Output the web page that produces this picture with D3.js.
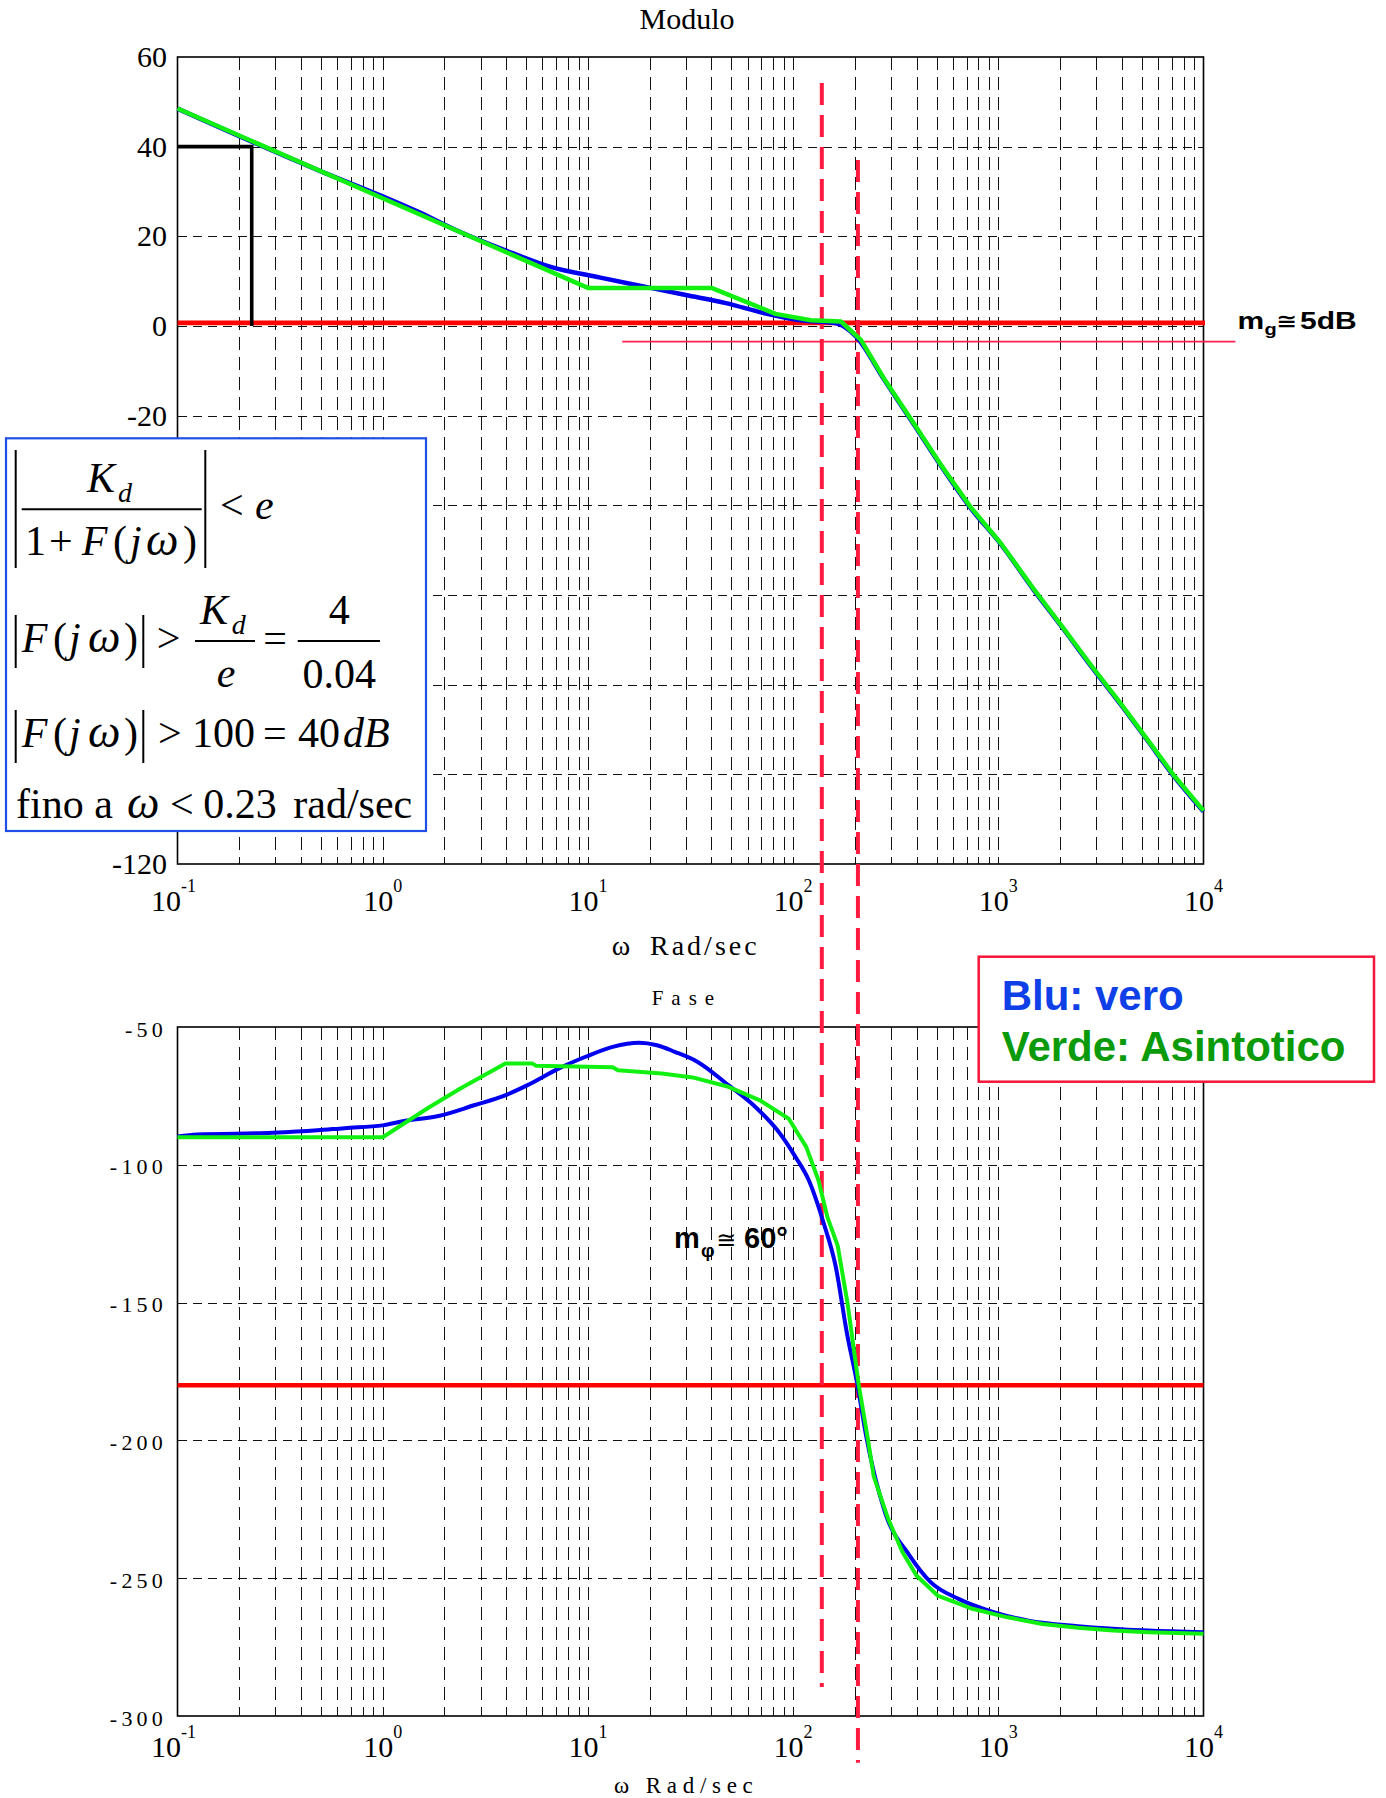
<!DOCTYPE html>
<html><head><meta charset="utf-8">
<script src="https://cdn.jsdelivr.net/npm/d3@7"></script>
<style>
html,body{margin:0;padding:0;background:#fff;}
svg{display:block;}
</style></head>
<body>
<svg id="chart" width="1386" height="1798"></svg>
<script>
// ---------------- DATA ----------------
const decadeExps = [-1, 0, 1, 2, 3, 4];
const magTicks = [60, 40, 20, 0, -20, -40, -60, -80, -100, -120];
const phaseTicks = [-50, -100, -150, -200, -250, -300];

// Magnitude (dB) - asymptotic (green)
const magAsymW  = [0.1, 1, 10, 40, 59, 82, 122, 171, 214, 277, 387, 522, 733, 1026, 1489, 2084, 2812, 3945, 5321, 7161, 10000];
const magAsymDb = [48.5, 28.5, 8.5, 8.5, 5.4, 2.7, 1.3, 1.0, -3.1, -11.7, -21.7, -30.8, -40.4, -48.4, -58.7, -67.5, -75.5, -84.2, -92.2, -100.2, -108.1];
// Magnitude (dB) - true (blue)
const magTrueW  = [0.1, 0.5, 1, 1.5, 2.27, 4.33, 6.58, 11.5, 20.2, 30, 47, 73.6, 109, 162, 203, 277, 387, 522, 733, 1026, 1489, 2084, 2812, 3945, 5321, 7161, 10000];
const magTrueDb = [48.5, 34.5, 28.9, 25.4, 21.4, 16.2, 13.2, 10.8, 8.5, 6.9, 5.1, 2.8, 1.3, 0.6, -2.4, -11.9, -21.9, -31.0, -40.6, -48.6, -58.9, -67.7, -75.7, -84.4, -92.4, -100.4, -108.3];

// Phase (deg) - asymptotic (green)
const phaseAsymW   = [0.1, 1, 1.67, 2.39, 3.96, 5.35, 5.6, 13.2, 14, 22.9, 32.4, 48.4, 68.9, 95.3, 116, 133, 147, 165, 184, 209, 232, 247, 290, 341, 399, 506, 748, 1109, 1641, 2443, 3622, 5370, 10000];
const phaseAsymDeg = [-90, -90, -79.3, -72.3, -63.2, -63.2, -64.1, -64.6, -65.7, -66.9, -68.3, -71.7, -76.6, -83.3, -93.6, -105.7, -119, -129.4, -150, -180, -200, -213, -228.3, -240.5, -249, -256.3, -261.1, -264.2, -266.6, -268, -269, -269.6, -270.2];
// Phase (deg) - true (blue)
const phaseTrueW   = [0.1, 0.125, 0.29, 0.48, 0.65, 1, 1.25, 1.87, 2.79, 3.95, 5.08, 7.23, 9.75, 13.2, 17.8, 21.7, 26.5, 34.1, 48.4, 65.5, 83.9, 102.8, 119.4, 140, 161.4, 182.8, 206, 226.5, 280, 369, 468, 640, 948, 1403, 2443, 5370, 10000];
const phaseTrueDeg = [-89.7, -89, -88.4, -87.5, -86.7, -85.7, -84.2, -82.3, -78.4, -74.8, -71.1, -65, -60.8, -57.2, -55.7, -56.6, -59, -62.6, -71.1, -79, -87.5, -97.2, -105.7, -120.5, -137, -161, -180, -198, -225.9, -241.7, -251.4, -257.5, -262.3, -265.4, -267.4, -269, -269.6];

// reference values
const specW = 0.23, specDb = 40;          // |F| > 40 dB up to 0.23 rad/s
const zeroLineDb = 0.7;                    // red 0 dB line
const zeroLineW = [0.1, 10170];
const mgDb = -3.5, mgW = [14.7, 14300];    // gain margin line
const phaseRefDeg = -180;
const crossW = [138, 207];                 // red dashed verticals
const crossFromDb = [54.2, 37];
const crossToDeg = [-289.5, -317];

// ---------------- LAYOUT ----------------
const xL = 177.5, xR = 1203.5;
const magTop = 57, magBot = 864;
const phTop = 1027, phBot = 1716;
const boxTop = 438.3, boxBot = 831;
const serif = "'Liberation Serif','Times New Roman',serif";
const sans = "'Liberation Sans',Arial,sans-serif";

const svg = d3.select('#chart');
const x = d3.scaleLog().domain([0.1, 10000]).range([xL, xR]);
const yM = d3.scaleLinear().domain([-120, 60]).range([magBot, magTop]);
const yP = d3.scaleLinear().domain([-300, -50]).range([phBot, phTop]);

const vGrid = x.ticks().filter(v => v > 0.1 * 1.0001 && v < 10000 / 1.0001);

function grid(g, yScale, hVals, top, bot) {
  g.selectAll('line.v').data(vGrid).join('line')
    .attr('x1', d => Math.round(x(d)) + 0.5).attr('x2', d => Math.round(x(d)) + 0.5)
    .attr('y1', top).attr('y2', bot)
    .attr('stroke', '#111').attr('stroke-width', 1).attr('stroke-dasharray', '13,7')
    .attr('shape-rendering', 'crispEdges');
  g.selectAll('line.h').data(hVals).join('line')
    .attr('x1', xL).attr('x2', xR)
    .attr('y1', d => Math.round(yScale(d)) + 0.5).attr('y2', d => Math.round(yScale(d)) + 0.5)
    .attr('stroke', '#111').attr('stroke-width', 1).attr('stroke-dasharray', '9,6')
    .attr('shape-rendering', 'crispEdges');
  g.append('rect').attr('x', xL).attr('y', top).attr('width', xR - xL).attr('height', bot - top)
    .attr('fill', 'none').attr('stroke', '#000').attr('stroke-width', 1.6);
}

const gM = svg.append('g');
grid(gM, yM, magTicks.slice(1, -1), magTop, magBot);
const gP = svg.append('g');
grid(gP, yP, phaseTicks.slice(1, -1), phTop, phBot);

// ---- titles & axis labels ----
svg.append('text').attr('x', 687).attr('y', 29.3).attr('text-anchor', 'middle')
  .style('font-family', serif).style('font-size', '30px').text('Modulo');
svg.append('text').attr('x', 651.7).attr('y', 1005)
  .style('font-family', serif).style('font-size', '21px').style('letter-spacing', '8px').text('Fase');

// y tick labels (those hidden behind the formula box are not drawn)
svg.append('g').selectAll('text')
  .data(magTicks.filter(d => yM(d) + 12 < boxTop || yM(d) - 12 > boxBot)).join('text')
  .attr('x', 167).attr('y', d => yM(d) + 10).attr('text-anchor', 'end')
  .style('font-family', serif).style('font-size', '30px').text(d => d);
svg.append('g').selectAll('text').data(phaseTicks).join('text')
  .attr('x', 167).attr('y', d => yP(d) + 9.5).attr('text-anchor', 'end')
  .style('font-family', serif).style('font-size', '22px').style('letter-spacing', '4.2px').text(d => d);

// x tick labels
function xLabels(baseline) {
  decadeExps.forEach(e => {
    const t = svg.append('text').attr('x', x(Math.pow(10, e)) + (e === -1 ? -4 : 0)).attr('y', baseline)
      .attr('text-anchor', 'middle').style('font-family', serif).style('font-size', '30px');
    t.append('tspan').text('10');
    t.append('tspan').attr('dy', -19).style('font-size', '18px').text(String(e));
  });
}
xLabels(911);
xLabels(1757);

svg.append('text').attr('x', 611.7).attr('y', 955).style('font-family', serif).style('font-size', '28px').text('ω');
svg.append('text').attr('x', 650).attr('y', 955).style('font-family', serif).style('font-size', '28px')
  .style('letter-spacing', '3px').text('Rad/sec');
svg.append('text').attr('x', 614).attr('y', 1793).style('font-family', serif).style('font-size', '23px').text('ω');
svg.append('text').attr('x', 645.8).attr('y', 1793).style('font-family', serif).style('font-size', '23px')
  .style('letter-spacing', '5.7px').text('Rad/sec');

// ---- reference lines ----
svg.append('line').attr('x1', x(zeroLineW[0])).attr('x2', x(zeroLineW[1]))
  .attr('y1', yM(zeroLineDb)).attr('y2', yM(zeroLineDb)).attr('stroke', '#ff0000').attr('stroke-width', 4.6);
svg.append('line').attr('x1', x(mgW[0])).attr('x2', x(mgW[1]))
  .attr('y1', yM(mgDb)).attr('y2', yM(mgDb)).attr('stroke', '#ff2050').attr('stroke-width', 1.8);
svg.append('line').attr('x1', xL).attr('x2', xR)
  .attr('y1', yP(phaseRefDeg)).attr('y2', yP(phaseRefDeg)).attr('stroke', '#ff0000').attr('stroke-width', 4.6);

crossW.forEach((w, i) => {
  svg.append('line').attr('x1', x(w)).attr('x2', x(w))
    .attr('y1', yM(crossFromDb[i])).attr('y2', yP(crossToDeg[i]))
    .attr('stroke', '#ff1a40').attr('stroke-width', 4).attr('stroke-dasharray', '22,10');
});

// spec black guide
svg.append('path')
  .attr('d', `M${xL},${yM(specDb)}H${x(specW)}V${yM(0)}`)
  .attr('fill', 'none').attr('stroke', '#000').attr('stroke-width', 3.6);

// ---- curves ----
const lineM = d3.line().x(d => x(d[0])).y(d => yM(d[1]));
const lineP = d3.line().x(d => x(d[0])).y(d => yP(d[1]));
const zip = (a, b) => a.map((v, i) => [v, b[i]]);

svg.append('path').attr('d', lineM.curve(d3.curveMonotoneX)(zip(magTrueW, magTrueDb)))
  .attr('fill', 'none').attr('stroke', '#0000ee').attr('stroke-width', 4.5).attr('stroke-linejoin', 'round');
svg.append('path').attr('d', lineM.curve(d3.curveLinear)(zip(magAsymW, magAsymDb)))
  .attr('fill', 'none').attr('stroke', '#12f012').attr('stroke-width', 4.5).attr('stroke-linejoin', 'round');

svg.append('path').attr('d', lineP.curve(d3.curveMonotoneX)(zip(phaseTrueW, phaseTrueDeg)))
  .attr('fill', 'none').attr('stroke', '#0000ee').attr('stroke-width', 4).attr('stroke-linejoin', 'round');
svg.append('path').attr('d', lineP.curve(d3.curveLinear)(zip(phaseAsymW, phaseAsymDeg)))
  .attr('fill', 'none').attr('stroke', '#12f012').attr('stroke-width', 4).attr('stroke-linejoin', 'round');

// ---- annotations ----
const mg = svg.append('g').attr('transform', 'translate(1237.6,329.3) scale(1.25,1)')
  .style('font-family', sans).style('font-weight', 'bold').style('fill', '#000');
mg.append('text').attr('x', 0).attr('y', 0).style('font-size', '24px').text('m');
mg.append('text').attr('x', 21.5).attr('y', 6).style('font-size', '16px').text('g');
mg.append('text').attr('x', 31).attr('y', -1).style('font-size', '20px').style('font-family', "'DejaVu Sans',sans-serif").text('≅');
mg.append('text').attr('x', 50).attr('y', 0).style('font-size', '24px').text('5dB');

const mp = svg.append('g').style('font-family', sans).style('fill', '#000');
mp.append('text').attr('x', 674).attr('y', 1248.3).style('font-size', '29px').style('font-weight', 'bold').text('m');
mp.append('text').attr('x', 701).attr('y', 1257).style('font-size', '19px').style('font-weight', 'bold').text('φ');
mp.append('text').attr('x', 716).attr('y', 1248).style('font-size', '24px').style('font-family', "'DejaVu Sans',sans-serif").text('≅');
mp.append('text').attr('x', 744).attr('y', 1248.3).style('font-size', '29px').style('font-weight', 'bold').text('60°');

// ---- formula box ----
const fb = svg.append('g');
fb.append('rect').attr('x', 6).attr('y', boxTop).attr('width', 420).attr('height', boxBot - boxTop)
  .attr('fill', '#fff').attr('stroke', '#1f4fe8').attr('stroke-width', 2.2);
const pieces = [
  ['K', 87, 491.7, 42, 1], ['d', 118, 501.7, 28, 1],
  ['1', 25, 555, 42, 0], ['+', 49, 555, 42, 0], ['F', 81.7, 555, 42, 1], ['(', 113, 555, 42, 0],
  ['j', 130, 555, 42, 1], ['ω', 146, 555, 46, 1], [')', 183, 555, 42, 0],
  ['<', 220, 519.3, 42, 0], ['e', 255, 519.3, 42, 1],
  ['F', 21.7, 651.7, 42, 1], ['(', 53, 651.7, 42, 0], ['j', 69, 651.7, 42, 1], ['ω', 88, 651.7, 46, 1], [')', 124, 651.7, 42, 0],
  ['>', 156.7, 651.7, 42, 0], ['K', 200, 624.3, 42, 1], ['d', 231.7, 634, 28, 1],
  ['e', 226, 686.7, 42, 1, 'middle'], ['=', 263.3, 651.7, 42, 0],
  ['4', 339.3, 624.3, 42, 0, 'middle'], ['0.04', 339.2, 687.7, 42, 0, 'middle'],
  ['F', 21.7, 746.7, 42, 1], ['(', 53, 746.7, 42, 0], ['j', 69, 746.7, 42, 1], ['ω', 88, 746.7, 46, 1], [')', 124, 746.7, 42, 0],
  ['>', 158, 746.7, 42, 0], ['100', 192, 746.7, 42, 0], ['=', 263, 746.7, 42, 0], ['40', 298, 746.7, 42, 0], ['dB', 343, 746.7, 42, 1],
  ['fino a', 16, 818.3, 42, 0], ['ω', 127, 818.3, 46, 1], ['<', 170, 818.3, 42, 0], ['0.23', 203.3, 818.3, 42, 0], ['rad/sec', 293.3, 818.3, 42, 0]
];
pieces.forEach(p => {
  fb.append('text').attr('x', p[1]).attr('y', p[2]).attr('text-anchor', p[5] || 'start')
    .style('font-family', serif).style('font-size', p[3] + 'px').style('font-style', p[4] ? 'italic' : 'normal')
    .text(p[0]);
});
const rules = [
  [15.7, 450, 15.7, 568], [205.3, 450, 205.3, 568], [21.7, 509.3, 201.7, 509.3],
  [15.7, 615, 15.7, 668], [143.3, 615, 143.3, 668], [195, 641, 255, 641], [297.7, 641, 380, 641],
  [15.7, 710, 15.7, 763], [143.3, 710, 143.3, 763]
];
rules.forEach(r => fb.append('line').attr('x1', r[0]).attr('y1', r[1]).attr('x2', r[2]).attr('y2', r[3])
  .attr('stroke', '#000').attr('stroke-width', 2));

// ---- legend box ----
const lg = svg.append('g');
lg.append('rect').attr('x', 978.7).attr('y', 956.7).attr('width', 395.3).attr('height', 125)
  .attr('fill', '#fff').attr('stroke', '#f5163a').attr('stroke-width', 2.5);
lg.append('text').attr('x', 1001.7).attr('y', 1010).style('font-family', sans).style('font-weight', 'bold')
  .style('font-size', '42px').style('fill', '#0f3fe6').text('Blu: vero');
lg.append('text').attr('x', 1001.7).attr('y', 1060.7).style('font-family', sans).style('font-weight', 'bold')
  .style('font-size', '42px').style('fill', '#0a9a0a').text('Verde: Asintotico');
</script></body></html>
